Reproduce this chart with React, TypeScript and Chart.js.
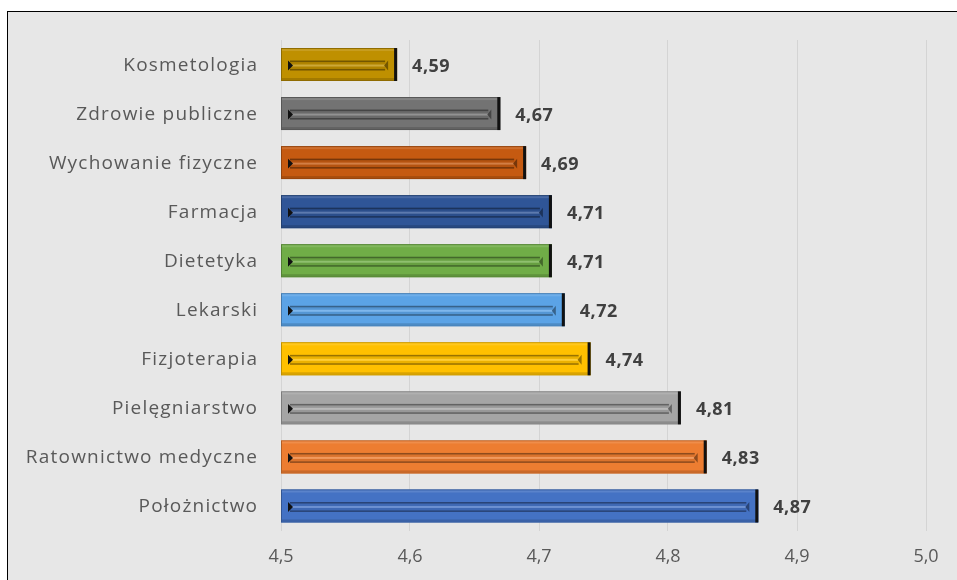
import React, { useEffect, useRef } from "react";
import { Chart, registerables } from "chart.js";

Chart.register(...registerables);

const categories = [
  "Kosmetologia",
  "Zdrowie publiczne",
  "Wychowanie fizyczne",
  "Farmacja",
  "Dietetyka",
  "Lekarski",
  "Fizjoterapia",
  "Pielęgniarstwo",
  "Ratownictwo medyczne",
  "Położnictwo",
];
const values = [4.59, 4.67, 4.69, 4.71, 4.71, 4.72, 4.74, 4.81, 4.83, 4.87];
const barColors = [
  "#bf9000",
  "#737373",
  "#c55a11",
  "#2f5597",
  "#70ad47",
  "#5ba3e6",
  "#ffc000",
  "#a5a5a5",
  "#ed7d31",
  "#4472c4",
];
const xMin = 4.5;
const xMax = 5.0;
const xStep = 0.1;

const FONT = "'Open Sans', Lato, sans-serif";

function shade(hex: string, f: number): string {
  const n = parseInt(hex.slice(1), 16);
  let r = (n >> 16) & 255, g = (n >> 8) & 255, b = n & 255;
  if (f < 0) {
    r = Math.round(r * (1 + f)); g = Math.round(g * (1 + f)); b = Math.round(b * (1 + f));
  } else {
    r = Math.round(r + (255 - r) * f); g = Math.round(g + (255 - g) * f); b = Math.round(b + (255 - b) * f);
  }
  return `rgb(${r},${g},${b})`;
}

const categoryLabelPlugin = {
  id: "categoryLabels",
  afterDraw(chart: any) {
    const ctx = chart.ctx;
    const yScale = chart.scales.y;
    const right = chart.chartArea.left - 24;
    ctx.save();
    ctx.font = `19px ${FONT}`;
    (ctx as any).letterSpacing = "1.2px";
    ctx.fillStyle = "#595959";
    ctx.textAlign = "right";
    ctx.textBaseline = "middle";
    categories.forEach((label, i) => {
      ctx.fillText(label, right + 1.2, yScale.getPixelForValue(i) + 1);
    });
    ctx.restore();
  },
};

const bevelPlugin = {
  id: "bevel",
  afterDatasetsDraw(chart: any) {
    const ctx = chart.ctx;
    const meta = chart.getDatasetMeta(0);
    const area = chart.chartArea;
    meta.data.forEach((el: any, i: number) => {
      const p = el.getProps(["x", "y", "base", "height"], true);
      const l = Math.max(Math.min(p.base, p.x), area.left);
      const r = Math.max(p.base, p.x);
      const t = p.y - p.height / 2;
      const b = p.y + p.height / 2;
      const h = b - t;
      const c = barColors[i];
      ctx.save();
      ctx.strokeStyle = shade(c, -0.25);
      ctx.lineWidth = 1;
      ctx.strokeRect(l + 0.5, t + 0.5, r - l - 1, h - 1);
      ctx.fillStyle = shade(c, 0.12);
      ctx.fillRect(l + 1, t + 1, r - l - 2, 2);
      ctx.fillStyle = shade(c, -0.15);
      ctx.fillRect(l + 1, b - 3, r - l - 2, 2);
      const y1 = t + h * 0.38;
      const y2 = t + h * 0.68;
      const ym = (y1 + y2) / 2;
      ctx.fillStyle = shade(c, -0.08);
      ctx.fillRect(l + 9, y1, r - l - 21, y2 - y1);
      ctx.fillStyle = shade(c, -0.4);
      ctx.fillRect(l + 9, y1, r - l - 21, 1.5);
      ctx.fillRect(l + 9, y2 - 1.5, r - l - 21, 1.5);
      ctx.fillStyle = shade(c, 0.22);
      ctx.fillRect(l + 9, ym - 1, r - l - 21, 2);
      ctx.fillStyle = "#111";
      ctx.beginPath();
      ctx.moveTo(l + 7, y1);
      ctx.lineTo(l + 12, ym);
      ctx.lineTo(l + 7, y2);
      ctx.closePath();
      ctx.fill();
      ctx.fillStyle = shade(c, -0.4);
      ctx.beginPath();
      ctx.moveTo(r - 9, y1);
      ctx.lineTo(r - 13, ym);
      ctx.lineTo(r - 9, y2);
      ctx.closePath();
      ctx.fill();
      ctx.fillStyle = "#111";
      ctx.fillRect(r - 3, t, 3, h);
      ctx.fillStyle = "#404040";
      ctx.font = `bold 18px ${FONT}`;
      (ctx as any).letterSpacing = "0.5px";
      ctx.textAlign = "left";
      ctx.textBaseline = "middle";
      ctx.fillText(values[i].toFixed(2).replace(".", ","), r + 15, p.y + 2);
      ctx.restore();
    });
  },
};

export default function App() {
  const ref = useRef<HTMLCanvasElement>(null);
  useEffect(() => {
    if (!ref.current) return;
    const chart = new Chart(ref.current, {
      type: "bar",
      data: {
        labels: categories,
        datasets: [
          {
            data: values,
            backgroundColor: barColors,
            borderWidth: 0,
            barPercentage: 0.7,
            categoryPercentage: 0.96,
          },
        ],
      },
      options: {
        indexAxis: "y",
        animation: false,
        responsive: false,
        maintainAspectRatio: false,
        layout: { padding: { top: 40, right: 31, left: 0, bottom: 0 } },
        plugins: {
          legend: { display: false },
          tooltip: { enabled: false },
        },
        scales: {
          x: {
            min: xMin,
            max: xMax,
            grid: { color: "#d4d4d4", lineWidth: 1, drawTicks: false },
            border: { display: false },
            ticks: {
              stepSize: xStep,
              color: "#595959",
              font: { family: FONT, size: 18 },
              padding: 16,
              callback: (v: any) => Number(v).toFixed(1).replace(".", ","),
            },
            afterFit: (s: any) => {
              s.height = 49.5;
            },
          },
          y: {
            grid: { display: false },
            border: { display: false },
            ticks: { display: false },
            afterFit: (s: any) => {
              s.width = 281;
            },
          },
        },
      },
      plugins: [bevelPlugin, categoryLabelPlugin],
    });
    return () => chart.destroy();
  }, []);
  return (
    <div style={{ position: "fixed", left: 0, top: 0, width: 957, height: 580, background: "#fff", overflow: "hidden" }}>
      <div
        style={{
          position: "absolute",
          left: 7,
          top: 11,
          width: 1000,
          height: 700,
          border: "1.5px solid #000",
          background: "#e7e7e7",
        }}
      />
      <canvas ref={ref} width={957} height={580} style={{ position: "absolute", left: 0, top: 0 }} />
    </div>
  );
}
